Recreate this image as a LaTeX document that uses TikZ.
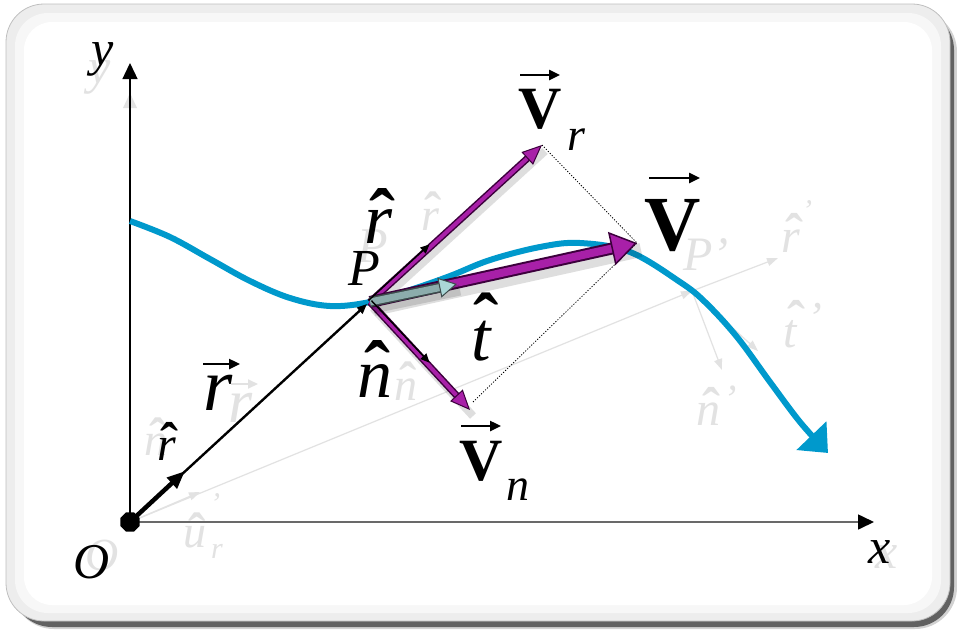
\documentclass[tikz,border=0pt]{standalone}
\usepackage{fontspec}
\setmainfont{Liberation Serif}
\usetikzlibrary{arrows.meta,shapes.geometric,calc}
\newcommand\myfs[1]{\fontsize{#1}{#1}\selectfont}
\definecolor{curveblue}{RGB}{0,153,204}
\definecolor{vpurple}{RGB}{168,32,168}
\definecolor{vdark}{RGB}{60,0,60}
\definecolor{ghost}{RGB}{226,226,226}
\definecolor{tbody}{RGB}{140,172,172}
\definecolor{thead}{RGB}{170,215,215}
\definecolor{tedge}{RGB}{60,75,75}
\definecolor{axisgray}{RGB}{105,105,105}
\begin{document}
\begin{tikzpicture}[x=1pt,y=-1pt,
  lbl/.style={inner sep=0pt, anchor=base},
  glab/.style={lbl, text=ghost},
  hatg/.style={inner sep=0pt, anchor=north},
  ghat/.style={hatg, text=ghost},
  vecarr/.style={line width=2.4pt, -{Triangle[length=11pt,width=10pt]}},
  gvecarr/.style={ghost, line width=2pt, -{Triangle[length=10pt,width=9pt]}},
  ghostarr/.style={ghost, line width=1.2pt, -{Triangle[length=11pt,width=8pt]}},
  dotline/.style={line width=0.8pt, dash pattern=on 1.2pt off 1.6pt},
  shadowline/.style={black, opacity=0.13},
]
\useasboundingbox (0,0) rectangle (957,629);
% frame
\fill[gray!35, rounded corners=42pt] (12,10) rectangle (957,629);
\fill[black!62, rounded corners=40pt] (12,10) rectangle (954,627);
\fill[gray!14, rounded corners=38pt] (6,4) rectangle (950,621);
\draw[gray!50, line width=0.8pt, rounded corners=38pt] (6,4) rectangle (950,621);
\fill[gray!6, rounded corners=33pt] (15,13) rectangle (941,613);
\fill[white, rounded corners=28pt] (24,22) rectangle (932,605);

% coordinates
\coordinate (O) at (130,522);
\coordinate (P) at (370,302);
\coordinate (ytip) at (130,63);
\coordinate (xtip) at (874,522);
\coordinate (rmid) at (185,471);
\coordinate (rend) at (367,304);
\coordinate (Vr) at (542,145);
\coordinate (Vn) at (470,410);
\coordinate (V) at (637,243);
\coordinate (T) at (457,284);
\coordinate (rhatT) at (431,246);
\coordinate (nhatT) at (428,364);
\coordinate (Vndot) at (473,402);
\coordinate (U) at (200,492);
\coordinate (Pp) at (692,291);
\coordinate (rp) at (778,258);
\coordinate (tp) at (758,351);
\coordinate (np) at (722,370);

% ghost arrows
\fill[ghost] (123,108) -- (130,93) -- (137,108) -- cycle;
\draw[ghostarr] (O) -- (Pp);
\draw[ghostarr] (O) -- (U);
\draw[ghostarr] (Pp) -- (rp);
\draw[ghostarr] (Pp) -- (tp);
\draw[ghostarr] (Pp) -- (np);

% ghost labels
\node[glab, font=\myfs{50}\itshape] (gy) at (100,83) {y};
\node[glab, font=\myfs{50}\itshape] (gx) at (887,568) {x};
\node[glab, font=\myfs{46}\itshape] (gO) at (102,570) {O};
\node[glab, font=\myfs{50}\itshape] (gP) at (373,262) {P};
\node[glab, font=\myfs{46}\itshape] (grh) at (430,230) {r};
\node[ghat, font=\myfs{52}\bfseries] (grhh) at (433,192) {ˆ};
\node[glab, font=\myfs{46}\itshape] (gnh) at (406,400) {n};
\node[ghat, font=\myfs{52}\bfseries] (gnhh) at (408,362) {ˆ};
\node[glab, font=\myfs{46}\itshape] (gnh0) at (156,455) {n};
\node[ghat, font=\myfs{52}\bfseries] (gnh0h) at (158,418) {ˆ};
\node[glab, font=\myfs{62}\itshape] (grv) at (241,422) {r};
\draw[gvecarr] (231,384) -- (258,384);
\node[glab, font=\myfs{46}\itshape] (gu) at (195,547) {u};
\node[ghat, font=\myfs{52}\bfseries] (guh) at (197,513) {ˆ};
\node[glab, font=\myfs{30}\itshape] (gup) at (215,513) {'};
\node[glab, font=\myfs{30}\itshape] (gur) at (217,558) {r};
\node[glab, font=\myfs{48}\itshape] (gPp) at (706,270) {P'};
\node[glab, font=\myfs{48}\itshape] (grp) at (791,252) {r};
\node[ghat, font=\myfs{54}\bfseries] (grph) at (794,213) {ˆ};
\node[glab, font=\myfs{30}\itshape] (grpp) at (807,220) {'};
\node[glab, font=\myfs{48}\itshape] (gtp) at (790,347) {t};
\node[ghat, font=\myfs{54}\bfseries] (gtph) at (796,300) {ˆ};
\node[glab, font=\myfs{44}\itshape] (gtpp) at (815,332) {'};
\node[glab, font=\myfs{48}\itshape] (gnp) at (708,425) {n};
\node[ghat, font=\myfs{54}\bfseries] (gnph) at (711,387) {ˆ};
\node[glab, font=\myfs{40}\itshape] (gnpp) at (730,412) {'};

% axes
\draw[line width=1.3pt, -{Triangle[length=16pt,width=15pt]}] (O) -- (ytip);
\draw[axisgray, line width=1.6pt, -{Triangle[length=16pt,width=15pt,color=black]}] (O) -- (xtip);

% blue trajectory
\draw[curveblue, line width=6pt, -{Triangle[length=24pt,width=40pt]}]
  plot[smooth, tension=0.6] coordinates {(130,221) (170,237) (210,259) (250,281) (290,298) (330,306) (370,302) (410,290) (450,276) (490,260) (540,247) (580,243) (630,252) (680,282) (705,302) (737,337) (770,382) (800,422) (828,453)};

% position vector
\draw[line width=2.4pt, -{Triangle[length=10pt,width=8pt]}] (O) -- (rend);
\draw[line width=4.5pt, -{Triangle[length=18pt,width=14pt]}] (O) -- (rmid);

% dotted construction lines
\draw[dotline] (Vr) -- (V);
\draw[dotline] (Vndot) -- (V);

% V_r
\draw[shadowline, line width=8pt] ($(P)+(3,6)$) -- ($(Vr)+(3,6)$);
\draw[vdark, line width=7pt, shorten >=16pt] (P) -- (Vr);
\draw[vpurple, line width=4pt, -{Triangle[length=20pt,width=17pt,color=vdark,fill=vpurple,line width=1pt]}] (P) -- (Vr);
% V_n
\draw[shadowline, line width=8pt] ($(P)+(3,6)$) -- ($(Vn)+(3,6)$);
\draw[vdark, line width=7pt, shorten >=16pt] (P) -- (Vn);
\draw[vpurple, line width=4pt, -{Triangle[length=20pt,width=17pt,color=vdark,fill=vpurple,line width=1pt]}] (P) -- (Vn);
% V
\draw[shadowline, line width=14pt] ($(P)+(4,7)$) -- ($(V)+(4,7)$);
\draw[vdark, line width=12pt, shorten >=22pt] (P) -- (V);
\draw[vpurple, line width=8pt, -{Triangle[length=26pt,width=34pt,color=vdark,fill=vpurple,line width=1.5pt]}] (P) -- (V);
% t hat
\draw[shadowline, line width=11pt] ($(P)+(3,6)$) -- ($(T)+(3,6)$);
\draw[tedge, line width=10pt, shorten >=16pt] (P) -- (T);
\draw[tbody, line width=7pt, -{Triangle[length=18pt,width=20pt,color=tedge,fill=thead,line width=1pt]}] (P) -- (T);
% unit vectors r hat, n hat at P
\draw[line width=1.4pt, -{Triangle[length=9pt,width=8pt]}] ($(P)+(-1.5,-1.5)$) -- ($(rhatT)+(-1.5,-1.5)$);
\draw[line width=1.4pt, -{Triangle[length=9pt,width=8pt]}] ($(P)+(1.5,-1.3)$) -- ($(nhatT)+(1.5,-1.3)$);

% origin dot
\node[regular polygon, regular polygon sides=8, fill=black, inner sep=0pt, minimum size=21pt] (Odot) at (O) {};

% labels
\node[lbl, font=\myfs{50}\itshape] (ylab) at (103,65) {y};
\node[lbl, font=\myfs{50}\itshape] (xlab) at (880,563) {x};
\node[lbl, font=\myfs{50}\itshape] (Olab) at (92,578) {O};
\node[lbl, font=\myfs{52}\itshape] (Plab) at (364,285) {P};
\node[lbl, font=\myfs{72}\itshape] (rhl) at (379,243) {r};
\node[hatg, font=\myfs{78}\bfseries] (rhh) at (382,188) {ˆ};
\node[lbl, font=\myfs{70}\itshape] (nhl) at (375,397) {n};
\node[hatg, font=\myfs{78}\bfseries] (nhh) at (377,340) {ˆ};
\node[lbl, font=\myfs{70}\itshape] (thl) at (481,360) {t};
\node[hatg, font=\myfs{76}\bfseries] (thh) at (486,293) {ˆ};
\node[lbl, font=\myfs{48}\itshape] (rsl) at (167,460) {r};
\node[hatg, font=\myfs{54}\bfseries] (rsh) at (169,422) {ˆ};
\node[lbl, font=\myfs{75}\itshape] (rvl) at (218,410) {r};
\draw[vecarr] (203,364) -- (240,364);
\node[lbl, font=\myfs{60}\bfseries] (Vrl) at (540,128) {V};
\draw[vecarr] (520,75) -- (560,75);
\node[lbl, font=\myfs{46}\itshape] (Vrs) at (576,150) {r};
\node[lbl, font=\myfs{60}\bfseries] (Vnl) at (481,480) {V};
\draw[vecarr] (461,426) -- (501,426);
\node[lbl, font=\myfs{46}\itshape] (Vns) at (518,500) {n};
\node[lbl, font=\myfs{78}\bfseries] (Vl) at (673,250) {V};
\draw[vecarr] (649,178) -- (700,178);
\end{tikzpicture}
\end{document}
